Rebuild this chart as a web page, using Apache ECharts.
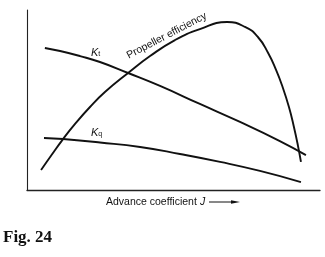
<!DOCTYPE html>
<html>
<head>
<meta charset="utf-8">
<script src="https://cdn.jsdelivr.net/npm/echarts@6/dist/echarts.min.js"></script>
<style>
html,body{margin:0;padding:0;background:#fff;}
#c{width:325px;height:257px;}
</style>
</head>
<body>
<div id="c"></div>
<script>
// Advance coefficient J (normalised 0..1) and curve values (normalised 0..1)
const effJ   = [0.048,0.085,0.123,0.164,0.215,0.266,0.345,0.420,0.505,0.590,0.683,0.744,0.788,0.823,0.850,0.870,0.894,0.911,0.925,0.935];
const effVal = [0.111,0.197,0.283,0.367,0.461,0.544,0.650,0.744,0.833,0.894,0.933,0.906,0.850,0.761,0.667,0.583,0.461,0.350,0.244,0.156];
const ktJ    = [0.061,0.113,0.181,0.249,0.345,0.454,0.590,0.727,0.863,0.952];
const ktVal  = [0.789,0.772,0.744,0.711,0.650,0.578,0.478,0.378,0.272,0.194];
const kqJ    = [0.058,0.123,0.249,0.386,0.522,0.659,0.795,0.935];
const kqVal  = [0.289,0.283,0.264,0.239,0.200,0.156,0.106,0.044];

const zip = (a,b) => a.map((v,i)=>[v,b[i]]);
const chart = echarts.init(document.getElementById('c'), null, {renderer:'canvas'});
const lineStyle = {color:'#111', width:1.9};
const FONT = 'Liberation Sans, Arial, sans-serif';
chart.setOption({
  animation:false,
  backgroundColor:'#fff',
  grid:{left:27,right:5,top:10,bottom:67},
  xAxis:{type:'value',min:0,max:1,axisLine:{show:true,onZero:false,lineStyle:{color:'#222',width:1.3}},
         axisTick:{show:false},axisLabel:{show:false},splitLine:{show:false}},
  yAxis:{type:'value',min:0,max:1,axisLine:{show:true,onZero:false,lineStyle:{color:'#222',width:1.1}},
         axisTick:{show:false},axisLabel:{show:false},splitLine:{show:false}},
  series:[
    {type:'line',data:zip(effJ,effVal),smooth:0.5,showSymbol:false,lineStyle:lineStyle},
    {type:'line',data:zip(ktJ,ktVal),smooth:0.5,showSymbol:false,lineStyle:lineStyle},
    {type:'line',data:zip(kqJ,kqVal),smooth:0.5,showSymbol:false,lineStyle:lineStyle}
  ],
  graphic:[
    {type:'text',x:130,y:61,rotation:27.5*Math.PI/180,
     style:{text:'Propeller efficiency',fill:'#111',font:'10.5px '+FONT,textAlign:'left',textVerticalAlign:'bottom'}},
    {type:'text',x:91,y:58,
     style:{text:'{k|K}{s|t}',textVerticalAlign:'bottom',
       rich:{k:{fontSize:11,fontStyle:'italic',fontFamily:FONT,fill:'#111'},
             s:{fontSize:7,fontFamily:FONT,fill:'#111',verticalAlign:'bottom'}}}},
    {type:'text',x:91,y:138,
     style:{text:'{k|K}{s|q}',textVerticalAlign:'bottom',
       rich:{k:{fontSize:11,fontStyle:'italic',fontFamily:FONT,fill:'#111'},
             s:{fontSize:7,fontFamily:FONT,fill:'#111',verticalAlign:'bottom'}}}},
    {type:'text',x:106,y:202,
     style:{text:'Advance coefficient',fill:'#111',font:'10.5px '+FONT,textAlign:'left',textVerticalAlign:'middle'}},
    {type:'text',x:200,y:202,
     style:{text:'J',fill:'#111',font:'italic 10.5px '+FONT,textAlign:'left',textVerticalAlign:'middle'}},
    {type:'line',shape:{x1:209,y1:202,x2:233,y2:202},style:{stroke:'#111',lineWidth:1}},
    {type:'polygon',shape:{points:[[231,200.3],[240,202],[231,203.7]]},style:{fill:'#111'}},
    {type:'text',x:3,y:246,
     style:{text:'Fig. 24',fill:'#111',font:'bold 17px Liberation Serif, Times New Roman, serif',textAlign:'left',textVerticalAlign:'bottom'}}
  ]
});
</script>
</body>
</html>
